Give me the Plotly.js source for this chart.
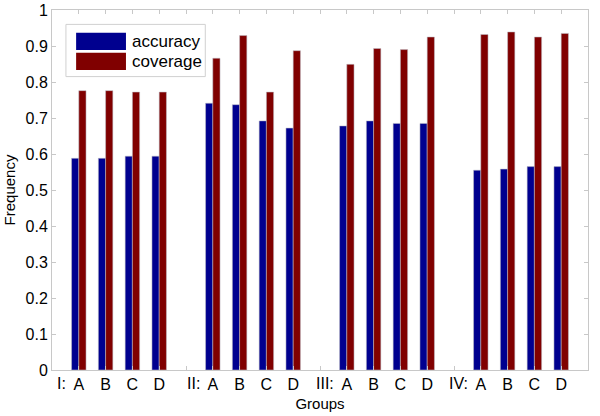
<!DOCTYPE html>
<html>
<head>
<meta charset="utf-8">
<script src="https://cdn.plot.ly/plotly-3.0.1.min.js"></script>
<style>html,body{margin:0;padding:0;background:#fff;}#chart{width:600px;height:416px;}</style>
</head>
<body>
<div id="chart"></div>
<script>
// Data
var positions = [1,2,3,4, 6,7,8,9, 11,12,13,14, 16,17,18,19];
var subLabels = ["A","B","C","D","A","B","C","D","A","B","C","D","A","B","C","D"];
var groupNames = ["I:","II:","III:","IV:"];
var groupStarts = [1,6,11,16];
var accuracy = [0.588,0.588,0.594,0.594, 0.741,0.737,0.692,0.672, 0.678,0.692,0.685,0.685, 0.555,0.558,0.565,0.565];
var coverage = [0.776,0.776,0.772,0.772, 0.866,0.929,0.772,0.887, 0.849,0.893,0.890,0.925, 0.932,0.939,0.925,0.935];
var seriesNames = ["accuracy","coverage"];
var seriesColors = ["#00008f","#800000"];

var tickvals = [], ticktext = [];
for (var i = 1; i <= 19; i++) {
  tickvals.push(i);
  var k = positions.indexOf(i);
  ticktext.push(k >= 0 ? subLabels[k] : "");
}

var traces = [accuracy, coverage].map(function(vals, s){
  return {
    type: "bar", x: positions, y: vals, name: seriesNames[s],
    marker: {color: seriesColors[s], line: {color: "rgba(190,190,200,0.9)", width: 0.6}},
    hoverinfo: "skip"
  };
});

var fam = "Liberation Sans, Arial, Helvetica, sans-serif";
var font = {family: fam, color: "#000", size: 16};
var titleFont = {family: fam, color: "#000", size: 15};

var annotations = groupNames.map(function(g, i){
  return {xref: "x", yref: "paper", x: groupStarts[i], y: 0, text: g, showarrow: false,
          xanchor: "right", yanchor: "top", xshift: -11, yshift: -3, font: font};
});

// custom legend (large swatches like the original)
var shapes = [{type: "rect", xref: "paper", yref: "paper", x0: 0.026, x1: 0.286, y0: 0.815, y1: 0.96,
               line: {color: "#d0d0d0", width: 1}, fillcolor: "#fff", layer: "above"}];
seriesNames.forEach(function(n, i){
  var yc = 0.913 - i*0.056;
  shapes.push({type: "rect", xref: "paper", yref: "paper", x0: 0.045, x1: 0.138,
               y0: yc - 0.024, y1: yc + 0.024, fillcolor: seriesColors[i], line: {width: 0}, layer: "above"});
  annotations.push({xref: "paper", yref: "paper", x: 0.146, y: yc, text: n, showarrow: false,
                    xanchor: "left", yanchor: "middle", font: {family: fam, size: 17, color: "#000"}});
});

var layout = {
  width: 600, height: 416,
  margin: {l: 52, r: 12, t: 10, b: 46},
  paper_bgcolor: "#fff", plot_bgcolor: "#fff",
  font: font,
  showlegend: false,
  barmode: "group", bargap: 0.46, bargroupgap: 0,
  xaxis: {
    range: [0, 20], tickvals: tickvals, ticktext: ticktext,
    ticks: "inside", ticklen: 4, tickcolor: "#c8c8c8",
    showline: true, linecolor: "#c8c8c8", linewidth: 1, mirror: "ticks",
    showgrid: false, zeroline: false, tickangle: 0,
    tickfont: font,
    title: {text: "Groups", font: titleFont, standoff: 6}
  },
  yaxis: {
    range: [0, 1], dtick: 0.1, tick0: 0,
    ticks: "inside", ticklen: 4, tickcolor: "#c8c8c8",
    showline: true, linecolor: "#c8c8c8", linewidth: 1, mirror: "ticks",
    showgrid: false, zeroline: false,
    tickfont: font,
    title: {text: "Frequency", font: titleFont, standoff: 6}
  },
  annotations: annotations,
  shapes: shapes
};

Plotly.newPlot("chart", traces, layout, {displayModeBar: false, staticPlot: true});
</script>
</body>
</html>
